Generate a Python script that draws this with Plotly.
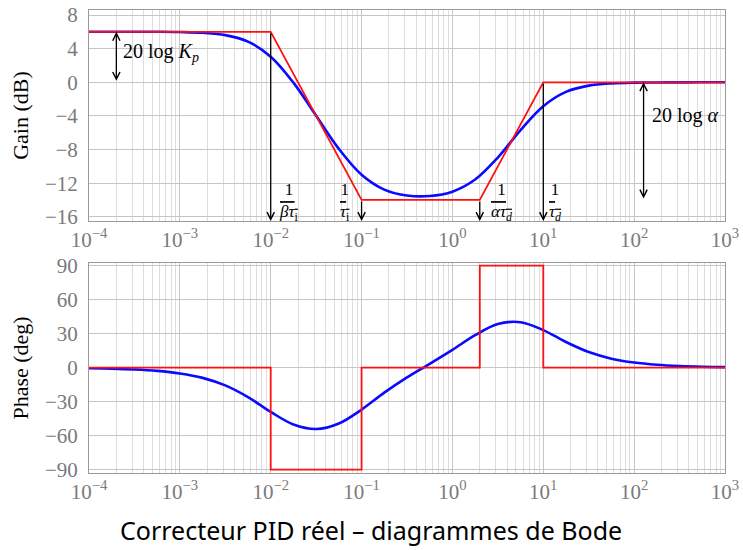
import math
import plotly.graph_objects as go
from plotly.subplots import make_subplots

# ---- data ----
freq = [1e-4, 1.778e-4, 3.162e-4, 5.623e-4, 1e-3, 1.778e-3, 3.162e-3, 5.623e-3,
        1e-2, 1.778e-2, 3.162e-2, 5.623e-2, 1e-1, 0.1778, 0.3162, 0.5623,
        1.0, 1.778, 3.162, 5.623, 10.0, 17.78, 31.62, 56.23,
        100.0, 177.8, 316.2, 562.3, 1000.0]
gain_db = [6.02, 6.02, 6.02, 6.01, 5.98, 5.89, 5.61, 4.84,
           3.05, -0.04, -3.98, -7.92, -11.00, -12.77, -13.47, -13.53,
           -13.01, -11.57, -8.95, -5.68, -2.84, -1.14, -0.40, -0.13,
           -0.04, -0.02, -0.01, 0.0, 0.0]
phase_deg = [-0.51, -0.91, -1.62, -2.88, -5.12, -9.02, -15.66, -26.00,
             -39.06, -50.15, -54.18, -49.28, -37.00, -22.07, -8.56, 3.42,
             15.72, 28.66, 38.51, 40.15, 33.17, 22.64, 13.77, 7.95,
             4.51, 2.55, 1.43, 0.81, 0.45]

asym_freq = [1e-4, 0.01, 0.1, 2, 10, 1000]
asym_gain = [6, 6, -14, -14, 0, 0]
step_freq = [1e-4, 0.01, 0.01, 0.1, 0.1, 2, 2, 10, 10, 1000]
step_phase = [0, 0, -90, -90, 0, 0, 90, 90, 0, 0]

x_exponents = [-4, -3, -2, -1, 0, 1, 2, 3]
gain_ticks = [-16, -12, -8, -4, 0, 4, 8]
phase_ticks = [-90, -60, -30, 0, 30, 60, 90]

corner_labels = [
    "1<br><span style='text-decoration:overline'><i>βτ</i><sub>i</sub></span>",
    "1<br><span style='text-decoration:overline'><i>τ</i><sub>i</sub></span>",
    "1<br><span style='text-decoration:overline'><i>ατ</i><sub><i>d</i></sub></span>",
    "1<br><span style='text-decoration:overline'><i>τ</i><sub><i>d</i></sub></span>",
]
corner_side = ["right", "left", "right", "right"]
corner_shift = [6, -10, 9, 4]

kp_arrow_freq = 2e-4
alpha_arrow_freq = 127.0
title_text = "Correcteur PID réel – diagrammes de Bode"

# ---- figure ----
fig = make_subplots(rows=2, cols=1)

fig.add_trace(go.Scatter(x=freq, y=gain_db, mode="lines", line=dict(color="#0a0aff", width=2.6, shape="spline"),
                         showlegend=False), row=1, col=1)
fig.add_trace(go.Scatter(x=asym_freq, y=asym_gain, mode="lines", line=dict(color="#ff1010", width=1.8),
                         showlegend=False), row=1, col=1)
fig.add_trace(go.Scatter(x=freq, y=phase_deg, mode="lines", line=dict(color="#0a0aff", width=2.6, shape="spline"),
                         showlegend=False), row=2, col=1)
fig.add_trace(go.Scatter(x=step_freq, y=step_phase, mode="lines", line=dict(color="#ff1010", width=1.8),
                         showlegend=False), row=2, col=1)

tickfont = dict(family="Liberation Serif", size=21, color="#7a7a7a")
xtickvals = [10.0 ** e for e in x_exponents]
xticktext = ["10<sup>%s</sup>" % str(e).replace("-", "−") for e in x_exponents]
xcommon = dict(type="log", range=[-4, 3], tickvals=xtickvals, ticktext=xticktext,
               showgrid=True, gridcolor="#c6c6c6", gridwidth=1,
               minor=dict(dtick="D1", showgrid=True, gridcolor="#dddddd", gridwidth=1),
               showline=True, linecolor="#9a9a9a", linewidth=1, mirror=True,
               ticks="", tickfont=tickfont, zeroline=False, automargin=False)
fig.update_xaxes(**xcommon)
ycommon = dict(showgrid=True, gridcolor="#c6c6c6", gridwidth=1, showline=True,
               linecolor="#9a9a9a", linewidth=1, mirror=True, ticks="",
               tickfont=tickfont, zeroline=False, ticklabelstandoff=6, automargin=False)
fig.update_yaxes(**ycommon)
fig.update_yaxes(range=[-16.5, 8.6], tickvals=gain_ticks,
                 title=dict(text="Gain (dB)", font=dict(family="Liberation Serif", size=22, color="black"),
                            standoff=10), row=1, col=1)
fig.update_yaxes(range=[-93, 92.4], tickvals=phase_ticks,
                 title=dict(text="Phase (deg)", font=dict(family="Liberation Serif", size=22, color="black"),
                            standoff=10), row=2, col=1)

fig.update_layout(
    width=743, height=550,
    margin=dict(l=89, r=18, t=10, b=77),
    plot_bgcolor="white", paper_bgcolor="white",
    xaxis=dict(domain=[0, 1], anchor="y"),
    yaxis=dict(domain=[0.5443, 1.0]),
    xaxis2=dict(domain=[0, 1], anchor="y2"),
    yaxis2=dict(domain=[0.0, 0.4536]),
)

ymin_gain = -16.5
annots = []
mathfont = dict(family="Liberation Serif", size=20, color="black")
fracfont = dict(family="Liberation Serif", size=17, color="black")
arrow_common = dict(xref="x", yref="y", axref="x", ayref="y", text="", showarrow=True,
                    arrowhead=5, arrowsize=1.1, arrowwidth=1.3, arrowcolor="black", standoff=0)

# 20 log Kp double arrow
annots.append(dict(x=math.log10(kp_arrow_freq), y=asym_gain[0], ax=math.log10(kp_arrow_freq), ay=0,
                   arrowside="end+start", startarrowhead=5, startarrowsize=1.1, startstandoff=0, **arrow_common))
annots.append(dict(x=math.log10(kp_arrow_freq), y=asym_gain[0] / 2, xref="x", yref="y",
                   text="20 log <i>K</i><sub><i>p</i></sub>", showarrow=False, xanchor="left", xshift=5,
                   yshift=5, font=mathfont))

# vertical arrows at corner frequencies
for i in range(4):
    f = asym_freq[i + 1]
    g = asym_gain[i + 1]
    annots.append(dict(x=math.log10(f), y=ymin_gain, ax=math.log10(f), ay=g, **arrow_common))
    side = corner_side[i]
    annots.append(dict(x=math.log10(f), y=-14.0, xref="x", yref="y", text=corner_labels[i],
                       showarrow=False, xanchor="left" if side == "right" else "right",
                       xshift=corner_shift[i], yshift=-2, yanchor="middle", font=fracfont))

# 20 log alpha double arrow
annots.append(dict(x=math.log10(alpha_arrow_freq), y=asym_gain[-1], ax=math.log10(alpha_arrow_freq), ay=asym_gain[2],
                   arrowside="end+start", startarrowhead=5, startarrowsize=1.1, startstandoff=0, **arrow_common))
annots.append(dict(x=math.log10(alpha_arrow_freq), y=-3.9, xref="x", yref="y",
                   text="20 log <i>α</i>", showarrow=False, xanchor="left", xshift=6, font=mathfont))

# caption
annots.append(dict(x=0.4434, y=-0.123, xref="paper", yref="paper", text=title_text, showarrow=False,
                   xanchor="center", yanchor="middle",
                   font=dict(family="Noto Sans", size=25, color="black")))

fig.update_layout(annotations=annots)
fig.write_html("out.html")
